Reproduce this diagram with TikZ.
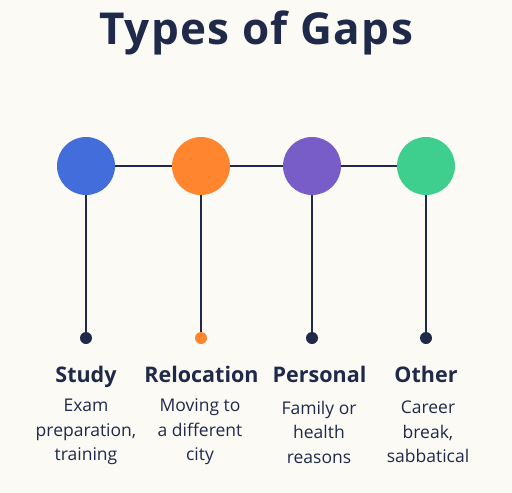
\documentclass[tikz,border=0pt]{standalone}
\usepackage{fontspec}
\setmainfont{Open Sans}
\definecolor{bg}{HTML}{FBFAF5}
\definecolor{ink}{HTML}{1F2A4A}
\definecolor{cblue}{HTML}{426DDB}
\definecolor{corange}{HTML}{FF862F}
\definecolor{cpurple}{HTML}{785DC8}
\definecolor{cgreen}{HTML}{3ECF8E}
\begin{document}
\begin{tikzpicture}[x=1pt,y=-1pt,
  bigdot/.style={circle,minimum size=58pt,inner sep=0pt},
  smalldot/.style={circle,minimum size=12pt,inner sep=0pt,fill=ink},
  link/.style={draw=ink,line width=2.8pt},
  head/.style={text=ink,anchor=base,inner sep=0pt,font=\fontsize{21.5}{24}\selectfont\bfseries},
  desc/.style={text=ink,font=\fontsize{17.5}{24.5}\selectfont,align=center}]
\fill[bg] (0,0) rectangle (512,493);
\useasboundingbox (0,0) rectangle (512,493);
\node[text=ink,anchor=base,inner sep=0pt,font=\fontsize{44}{48}\selectfont\bfseries\addfontfeatures{LetterSpace=3}] (title) at (256,44) {Types of Gaps};
\foreach \n/\x in {a/86,b/201,c/312,d/426}{
  \coordinate (\n c) at (\x,166);
}
\node[smalldot] (as) at (86,338) {};
\node[smalldot,fill=corange] (bs) at (201,338) {};
\node[smalldot] (cs) at (312,338) {};
\node[smalldot] (ds) at (426,338) {};
\draw[link] (ac) -- (bc) -- (cc) -- (dc);
\draw[link] (ac) -- (as);
\draw[link] (bc) -- (bs);
\draw[link] (cc) -- (cs);
\draw[link] (dc) -- (ds);
\node[bigdot,fill=cblue] (a) at (ac) {};
\node[bigdot,fill=corange] (b) at (bc) {};
\node[bigdot,fill=cpurple] (c) at (cc) {};
\node[bigdot,fill=cgreen] (d) at (dc) {};
\node[head] (ah) at (86,382) {Study};
\node[head] (bh) at (201.5,382) {Relocation};
\node[head] (ch) at (319.5,382) {Personal};
\node[head] (dh) at (426,382) {Other};
\node[desc] (ad) at (86,432) {Exam\\preparation,\\training};
\node[desc] (bd) at (200,432) {Moving to\\a different\\city};
\node[desc] (cd) at (319,432) {Family or\\health\\reasons};
\node[desc] (dd) at (428,432) {Career\\break,\\sabbatical};
\end{tikzpicture}
\end{document}
